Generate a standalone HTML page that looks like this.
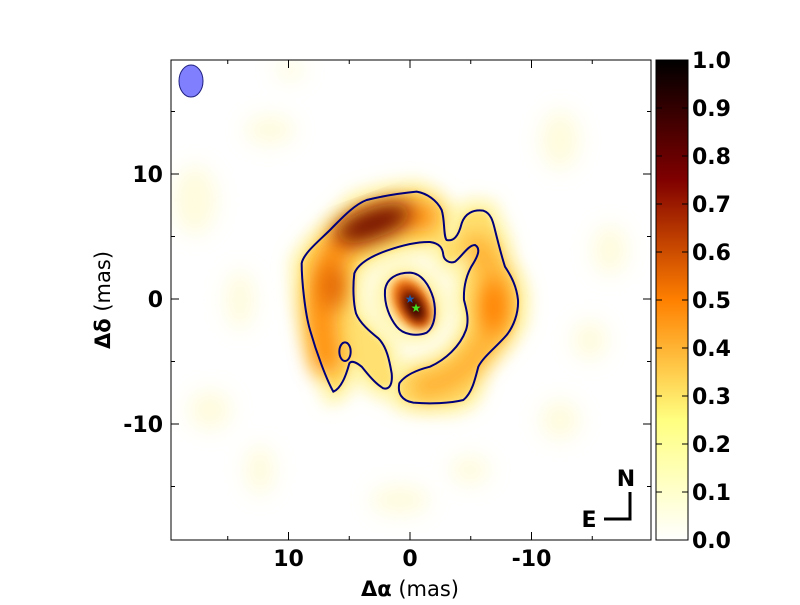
<!DOCTYPE html>
<html><head><meta charset="utf-8"><style>
body{margin:0;background:#fff;}
svg text{font-family:"DejaVu Sans","Liberation Sans",sans-serif;}
</style></head><body>
<svg id="chart" width="800" height="600" viewBox="0 0 800 600" xmlns="http://www.w3.org/2000/svg">
<defs>
<clipPath id="plotclip"><rect x="171" y="60" width="480" height="480"/></clipPath>
<filter id="b1" x="-50%" y="-50%" width="200%" height="200%"><feGaussianBlur stdDeviation="14"/></filter>
<filter id="b2" x="-50%" y="-50%" width="200%" height="200%"><feGaussianBlur stdDeviation="30"/></filter>
<filter id="b4" x="-50%" y="-50%" width="200%" height="200%"><feGaussianBlur stdDeviation="10"/></filter>
<filter id="bh" x="-50%" y="-50%" width="200%" height="200%"><feGaussianBlur stdDeviation="25"/></filter>
<filter id="bg" x="-50%" y="-50%" width="200%" height="200%"><feGaussianBlur stdDeviation="10"/></filter>
<linearGradient id="cmap" x1="0" y1="1" x2="0" y2="0">
<stop offset="0" stop-color="#ffffff"/><stop offset="0.25" stop-color="#ffff80"/>
<stop offset="0.375" stop-color="#ffc040"/><stop offset="0.5" stop-color="#ff8000"/>
<stop offset="0.625" stop-color="#c04000"/><stop offset="0.75" stop-color="#800000"/>
<stop offset="0.875" stop-color="#400000"/><stop offset="1" stop-color="#000000"/>
</linearGradient>
</defs>
<g clip-path="url(#plotclip)">
<rect x="171" y="60" width="480" height="480" fill="#ffffff"/>
<g filter="url(#bg)" fill="#fffad0" opacity="0.7">
<ellipse cx="195" cy="200" rx="22" ry="35"/><ellipse cx="270" cy="130" rx="25" ry="15"/>
<ellipse cx="560" cy="140" rx="20" ry="30"/><ellipse cx="610" cy="250" rx="18" ry="25"/>
<ellipse cx="210" cy="410" rx="22" ry="20"/><ellipse cx="260" cy="470" rx="15" ry="25"/>
<ellipse cx="560" cy="420" rx="20" ry="20"/><ellipse cx="400" cy="500" rx="30" ry="15"/>
<ellipse cx="290" cy="70" rx="15" ry="10"/><ellipse cx="470" cy="470" rx="20" ry="15"/>
<ellipse cx="240" cy="300" rx="15" ry="30"/><ellipse cx="590" cy="340" rx="18" ry="20"/>
</g>
<g transform="translate(290,180) scale(0.33333)">
<path id="cpath" filter="url(#bh)" fill="#fff4a8" stroke="#fff4a8" stroke-width="70" d="M130,635 L100,560 60,450 40,350 35,250 60,210 120,150 200,70 290,45 380,35 430,60 460,95 465,180 500,175 520,110 550,90 590,95 610,140 630,190 640,250 670,300 685,350 680,420 650,470 600,520 560,560 550,620 530,655 490,670 400,670 340,660 325,630 330,600 370,570 420,560 480,530 520,480 535,430 530,400 520,360 525,300 555,240 570,215 560,195 540,200 510,235 470,245 460,225 455,200 420,185 350,195 290,215 230,240 195,270 190,330 195,400 220,430 250,460 270,480 290,500 300,560 310,600 290,625 260,615 220,570 200,550 180,540 170,580 145,630 Z"/>
<path filter="url(#b4)" fill="#ffe070" d="M130,635 L100,560 60,450 40,350 35,250 60,210 120,150 200,70 290,45 380,35 430,60 460,95 465,180 500,175 520,110 550,90 590,95 610,140 630,190 640,250 670,300 685,350 680,420 650,470 600,520 560,560 550,620 530,655 490,670 400,670 340,660 325,630 330,600 370,570 420,560 480,530 520,480 535,430 530,400 520,360 525,300 555,240 570,215 560,195 540,200 510,235 470,245 460,225 455,200 420,185 350,195 290,215 230,240 195,270 190,330 195,400 220,430 250,460 270,480 290,500 300,560 310,600 290,625 260,615 220,570 200,550 180,540 170,580 145,630 Z"/>
<ellipse filter="url(#bh)" cx="360" cy="370" rx="110" ry="130" transform="rotate(-30 360 370)" fill="#fff6b0"/>
<path filter="url(#b2)" fill="none" stroke="#ff9010" stroke-width="90" stroke-linecap="round" d="M110,540 C90,420 80,300 140,210 C200,130 300,100 400,110"/>
<path filter="url(#b2)" fill="none" stroke="#ffb030" stroke-width="80" stroke-linecap="round" d="M560,200 C640,300 640,430 560,520 C520,580 470,610 400,620"/>
<ellipse filter="url(#b2)" cx="610" cy="380" rx="40" ry="80" fill="#ff8000"/>
<ellipse filter="url(#b2)" cx="250" cy="130" rx="120" ry="45" transform="rotate(-20 250 130)" fill="#701000"/>
<ellipse filter="url(#b2)" cx="130" cy="320" rx="35" ry="70" fill="#e06000"/>
<ellipse filter="url(#b1)" cx="365" cy="370" rx="55" ry="85" transform="rotate(-30 365 370)" fill="#ff9020"/>
<ellipse filter="url(#b1)" cx="370" cy="375" rx="38" ry="70" transform="rotate(-30 370 375)" fill="#c04000"/>
<ellipse filter="url(#b1)" cx="372" cy="380" rx="22" ry="45" transform="rotate(-30 372 380)" fill="#300000"/>
<g fill="none" stroke="#00007a" stroke-width="6">
<path d="M130,635 C110,600 80,520 60,450 C45,400 35,300 35,250 C40,220 90,180 120,150 C150,120 190,75 230,60 C270,50 330,40 380,35 C410,40 440,60 455,90 C465,120 460,170 470,180 C490,185 505,170 515,130 C525,100 550,88 580,92 C605,100 610,130 615,150 C625,190 635,230 645,260 C665,290 680,320 684,360 C686,400 670,440 650,465 C620,500 580,530 565,560 C555,600 545,640 520,660 C480,670 420,672 370,668 C335,662 322,640 328,610 C345,585 380,570 420,560 C465,540 510,500 528,450 C538,420 530,390 522,360 C520,320 530,280 550,250 C565,225 572,205 555,195 C535,195 515,230 495,245 C478,252 462,240 460,225 C458,205 450,190 420,186 C380,185 330,198 290,212 C245,228 205,250 193,280 C188,320 190,370 198,400 C210,430 240,455 265,475 C290,500 298,540 305,580 C308,610 300,630 280,625 C255,610 235,585 215,560 C200,548 185,540 178,550 C170,580 155,625 130,635 Z"/>
<ellipse cx="165" cy="515" rx="17" ry="28"/>
<path d="M285,330 C290,295 320,278 360,278 C395,280 418,315 430,355 C440,395 435,440 410,458 C380,470 340,465 320,440 C300,415 282,375 285,330 Z"/>
</g>
</g>
<text x="410" y="303" font-size="12" fill="#1a5bb0" text-anchor="middle">★</text>
<text x="416" y="312" font-size="12" fill="#40e020" text-anchor="middle">★</text>
<ellipse cx="191" cy="81" rx="12" ry="16" fill="#8080ff" stroke="#202080" stroke-width="1"/>
</g>
<rect x="171" y="60" width="480" height="480" fill="none" stroke="#000" stroke-width="1"/>
<g id="axes"></g>
<g>
<text x="626" y="486" font-size="22" font-weight="bold" text-anchor="middle">N</text>
<text x="589" y="527" font-size="22" font-weight="bold" text-anchor="middle">E</text>
<path d="M630,492 V519 H604" fill="none" stroke="#000" stroke-width="3"/>
</g>
<rect x="656" y="60" width="32" height="480" fill="url(#cmap)" stroke="#000" stroke-width="1"/>
<g id="cbticks"></g>
<text x="410" y="596" font-size="21" text-anchor="middle"><tspan font-weight="bold">Δα</tspan> (mas)</text>
<text transform="translate(110,300) rotate(-90)" font-size="21" text-anchor="middle"><tspan font-weight="bold">Δδ</tspan> (mas)</text>
</svg>
<script>
const xTicks=[10,0,-10];
const yTicks=[10,0,-10];
const minorTicks=[15,5,-5,-15];
const cbTicks=[0,0.1,0.2,0.3,0.4,0.5,0.6,0.7,0.8,0.9,1.0];
const NS='http://www.w3.org/2000/svg';
function xs(v){return 410-v*12.15;}
function ys(v){return 299-v*12.5;}
function cb(v){return 540-v*480;}
const ax=document.getElementById('axes');
function mk(tag,attrs,parent){const e=document.createElementNS(NS,tag);for(const k in attrs)e.setAttribute(k,attrs[k]);parent.appendChild(e);return e;}
xTicks.forEach(v=>{const x=xs(v);
 const t1=mk('line',{x1:x,x2:x,y1:540,y2:532,stroke:'#000'},ax);
 
 
 mk('line',{x1:x,x2:x,y1:60,y2:68,stroke:'#000'},ax);
 const t=mk('text',{x:x,y:566,'font-size':22,'font-weight':'bold','text-anchor':'middle'},ax);t.textContent=String(v);
 
 });
yTicks.forEach(v=>{const y=ys(v);
 mk('line',{x1:171,x2:179,y1:y,y2:y,stroke:'#000'},ax);
 mk('line',{x1:651,x2:643,y1:y,y2:y,stroke:'#000'},ax);
 const t=mk('text',{x:163,y:y+8,'font-size':22,'font-weight':'bold','text-anchor':'end'},ax);t.textContent=String(v);
 
 });
minorTicks.forEach(v=>{
 mk('line',{x1:xs(v),x2:xs(v),y1:540,y2:536,stroke:'#000'},ax);
 mk('line',{x1:xs(v),x2:xs(v),y1:60,y2:64,stroke:'#000'},ax);
 mk('line',{x1:171,x2:175,y1:ys(v),y2:ys(v),stroke:'#000'},ax);
 mk('line',{x1:651,x2:647,y1:ys(v),y2:ys(v),stroke:'#000'},ax);});
const cg=document.getElementById('cbticks');
cbTicks.forEach(v=>{const y=cb(v);
 mk('line',{x1:682,x2:688,y1:y,y2:y,stroke:'#000'},cg);
 mk('line',{x1:656,x2:662,y1:y,y2:y,stroke:'#000'},cg);
 const t=mk('text',{x:692,y:y+8,'font-size':22,'font-weight':'bold'},cg);t.textContent=v.toFixed(1);
 
 });
</script>
</body></html>
